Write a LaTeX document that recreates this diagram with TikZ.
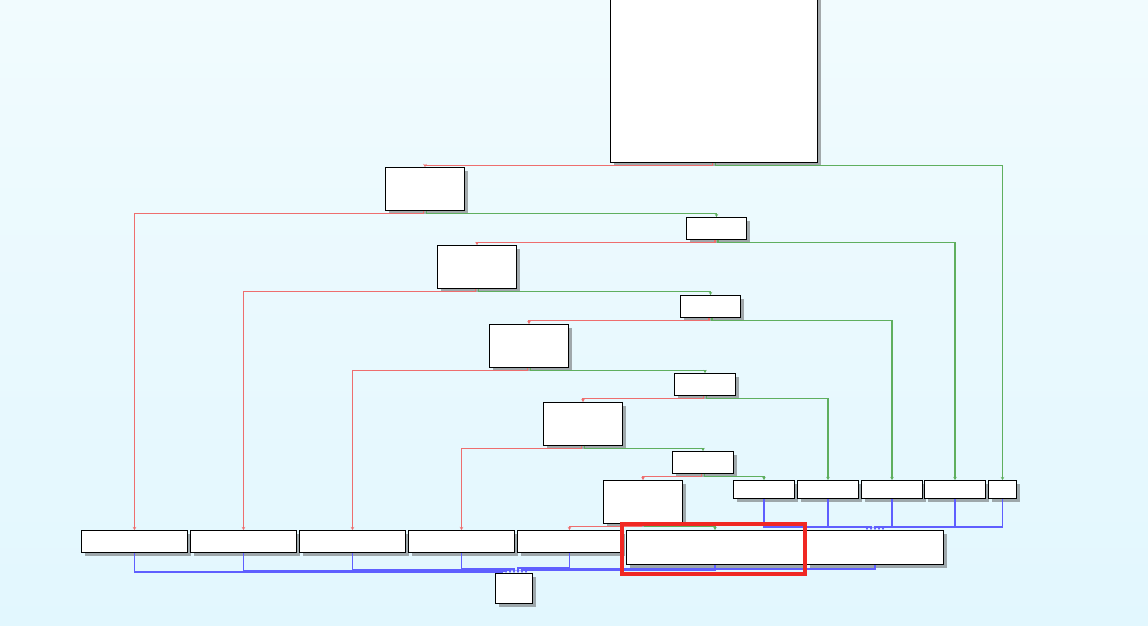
\documentclass[tikz,border=0pt]{standalone}
\usepackage{tikz}
\usetikzlibrary{arrows.meta, shadows}
\usepackage{xcolor}

\definecolor{bgtop}{RGB}{241,251,254}
\definecolor{bgbot}{RGB}{226,247,254}
\definecolor{fred}{RGB}{238,110,110}
\definecolor{tgreen}{RGB}{95,175,95}
\definecolor{ublue}{RGB}{95,95,255}
\definecolor{hlred}{RGB}{240,40,35}

\tikzset{
  blk/.style={draw, fill=white, line width=1pt, inner sep=0pt, anchor=north west,
    drop shadow={shadow xshift=3pt, shadow yshift=-3.5pt, opacity=0.5, fill=black!65}},
  midblk/.style={blk, minimum width=79pt, minimum height=43pt},
  smallblk/.style={blk, minimum width=60pt, minimum height=22pt},
  caseblk/.style={blk, minimum width=61pt, minimum height=18pt},
  tailblk/.style={blk, minimum width=106pt, minimum height=22pt},
  flow/.style={line width=1.5pt, -{Stealth[length=3pt,width=3.5pt]}},
  fedge/.style={flow, fred},
  tedge/.style={flow, tgreen},
  uedge/.style={flow, ublue},
}

\begin{document}
\begin{tikzpicture}[x=1pt,y=-1pt]
\useasboundingbox (0,0) rectangle (1148,626);
\fill[top color=bgtop, bottom color=bgbot] (0,0) rectangle (1148,626);
\clip (0,0) rectangle (1148,626);

% compare chain
\node[blk, minimum width=207pt, minimum height=180pt] (top) at (610,-18) {};
\node[midblk] (lo1) at (385,167) {};
\node[smallblk] (hi1) at (686,217) {};
\node[midblk] (lo2) at (437,245) {};
\node[smallblk] (hi2) at (680,295) {};
\node[midblk] (lo3) at (489,324) {};
\node[smallblk, minimum width=61pt] (hi3) at (674,373) {};
\node[midblk] (lo4) at (543,402) {};
\node[smallblk, minimum width=61pt] (hi4) at (672,451) {};
\node[midblk] (lo5) at (603,480) {};

% right hand cases
\node[caseblk] (case1) at (733,480) {};
\node[caseblk] (case2) at (797,480) {};
\node[caseblk] (case3) at (861,480) {};
\node[caseblk] (case4) at (924,480) {};
\node[caseblk, minimum width=28pt] (case5) at (988,480) {};

% bottom row
\node[tailblk] (tail1) at (81,530) {};
\node[tailblk] (tail2) at (190,530) {};
\node[tailblk] (tail3) at (299,530) {};
\node[tailblk] (tail4) at (408,530) {};
\node[tailblk, minimum width=104pt] (tail5) at (517,530) {};
\node[blk, minimum width=177pt, minimum height=34pt] (tail6) at (626,530) {};
\node[blk, minimum width=137pt, minimum height=34pt] (tail7) at (806,530) {};
\node[blk, minimum width=37pt, minimum height=30pt] (ret) at (495,573) {};

% false branches
\foreach \s/\t in {top/lo1, lo1/tail1, hi1/lo2, lo2/tail2, hi2/lo3, lo3/tail3, hi3/lo4, lo4/tail4, hi4/lo5, lo5/tail5}
  \draw[fedge] ([xshift=-1.5pt]\s.south) -- ++(0,2.5) -| (\t.north);
% true branches
\foreach \s/\t in {top/case5, lo1/hi1, hi1/case4, lo2/hi2, hi2/case3, lo3/hi3, hi3/case2, lo4/hi4, hi4/case1, lo5/tail6}
  \draw[tedge] ([xshift=1.5pt]\s.south) -- ++(0,2.5) -| (\t.north);

% jumps
\foreach \c/\o in {1/-8, 2/-4, 3/0, 4/4, 5/8}
  \draw[uedge] (case\c.south) -- ++(0,28) -| ([xshift=\o pt]tail7.north);
\foreach \t/\d/\o in {1/19/-12, 2/18/-8, 3/17/-4, 4/16/0, 5/15/4, 6/5/8, 7/4/12}
  \draw[uedge] (tail\t.south) -- ++(0,\d) -| ([xshift=\o pt]ret.north);

\draw[hlred, line width=4pt] (622,523.5) rectangle (805,574);
\end{tikzpicture}
\end{document}
